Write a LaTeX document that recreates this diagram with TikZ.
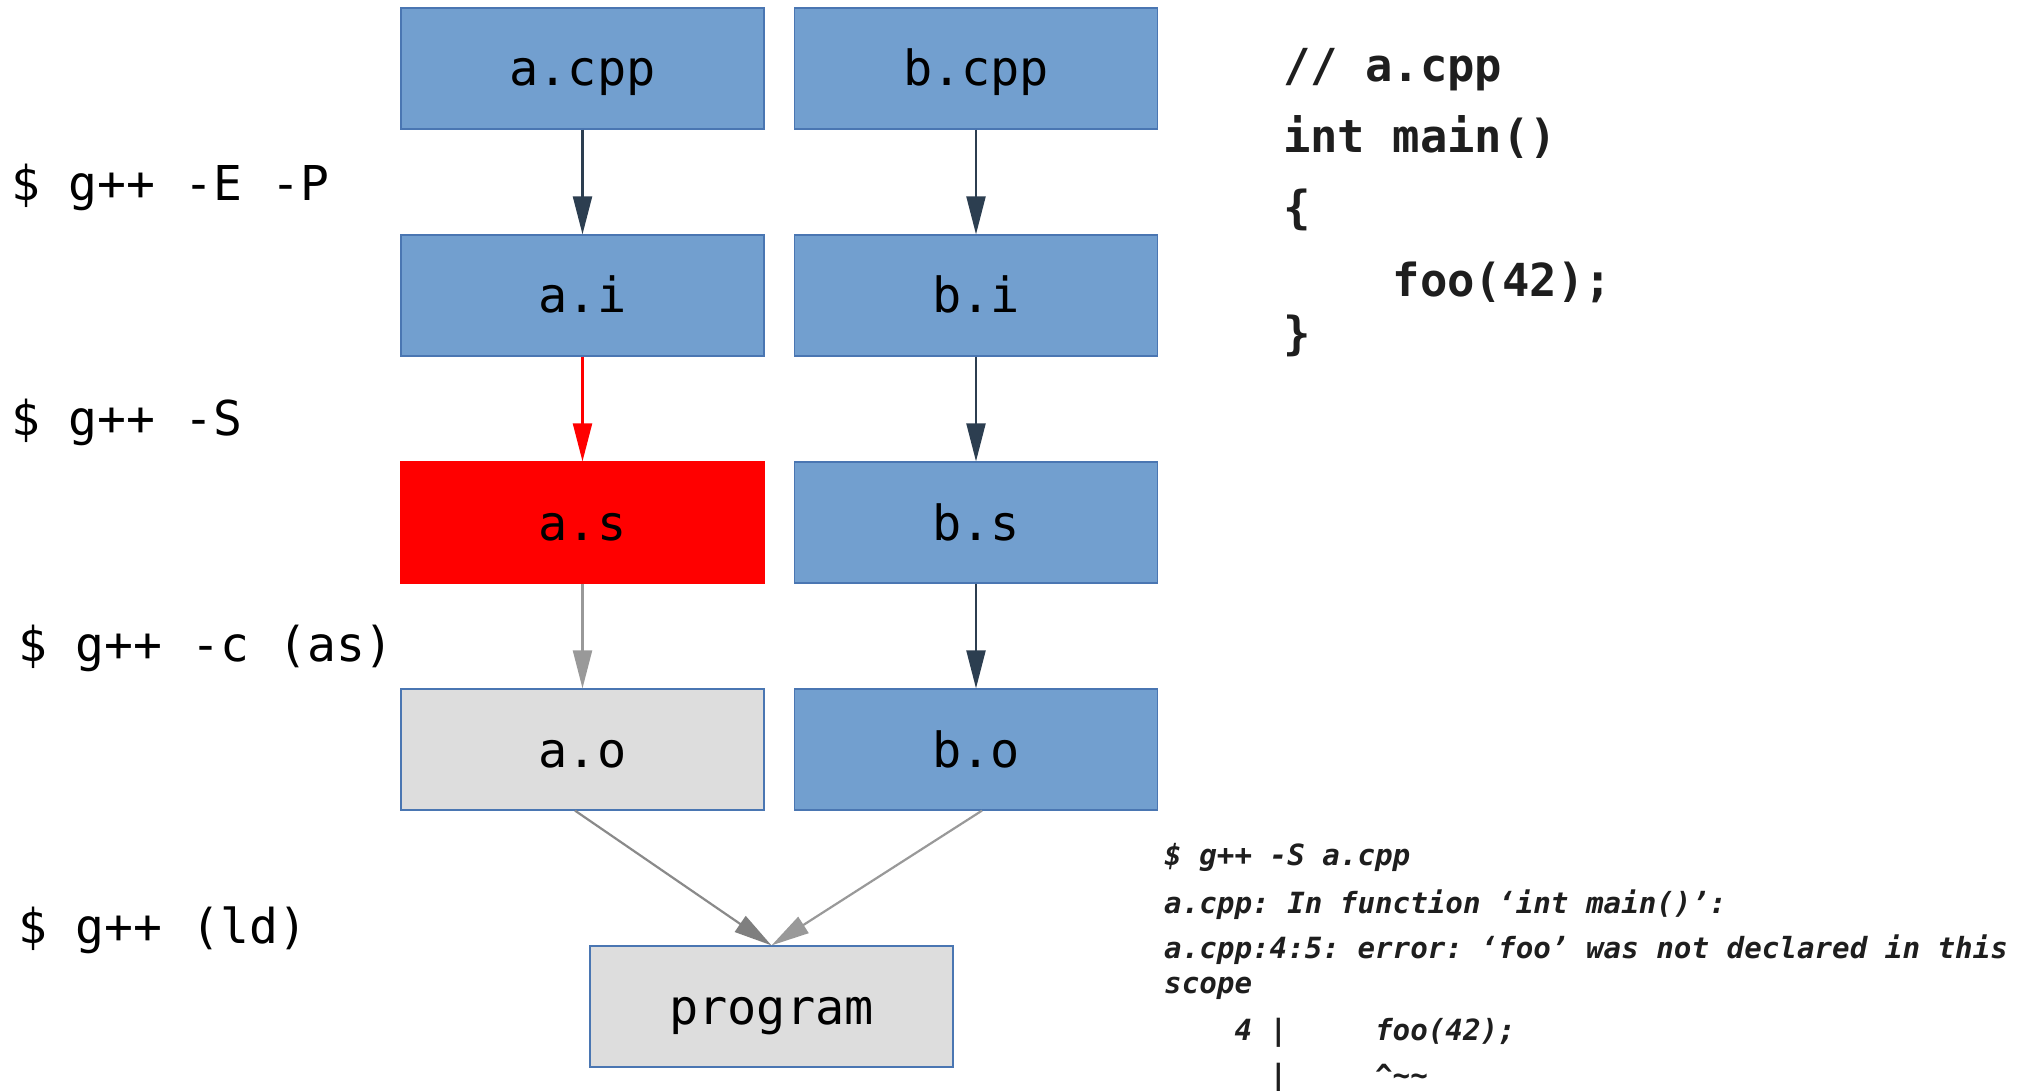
\documentclass[tikz,border=0pt]{standalone}
\usepackage{fontspec}
\usetikzlibrary{arrows.meta}
\newfontfamily\monofam{DejaVu Sans Mono}[
  BoldFont={DejaVu Sans Mono Bold},
  ItalicFont={DejaVu Sans Mono Oblique},
  BoldItalicFont={DejaVu Sans Mono Bold Oblique}]
\newcommand\setpx[1]{\fontsize{#1}{#1}\selectfont}
\frenchspacing
\definecolor{fillblue}{HTML}{729FCF}
\definecolor{edgeblue}{HTML}{4A76B2}
\definecolor{fillgray}{HTML}{DDDDDD}
\definecolor{slate}{HTML}{2C3E50}
\definecolor{lightgray}{HTML}{999999}
\definecolor{linegray}{HTML}{8A8A8A}
\definecolor{headgray}{HTML}{7F7F7F}
\definecolor{codegray}{HTML}{1E1E1E}
\begin{document}
\begin{tikzpicture}[x=1pt,y=-1pt,
  box/.style={rectangle, minimum width=363pt, minimum height=121pt,
    inner sep=0pt, line width=1.2pt, font=\monofam\setpx{48.5},
    text height=35pt, text depth=0pt},
  bluebox/.style={box, fill=fillblue, draw=edgeblue},
  redbox/.style={box, fill=red, draw=red},
  graybox/.style={box, fill=fillgray, draw=edgeblue},
  flow/.style={line width=2.2pt, -{Triangle[length=38pt,width=19pt]}},
  cmdlabel/.style={anchor=base west, inner sep=0pt, font=\monofam\setpx{48}},
  codeline/.style={anchor=base west, inner sep=0pt,
    font=\monofam\bfseries\setpx{45.5}, text=codegray},
  errline/.style={anchor=base west, inner sep=0pt,
    font=\monofam\bfseries\itshape\setpx{29.2}, text=codegray}]
\useasboundingbox (0,0) rectangle (2030,1091);

% build products, one column per source file
\node[bluebox] (acpp) at (582.5,68.5) {a.cpp};
\node[bluebox] (bcpp) at (976,68.5) {b.cpp};
\node[bluebox] (ai) at (582.5,295.5) {a.i};
\node[bluebox] (bi) at (976,295.5) {b.i};
\node[redbox] (as) at (582.5,522.5) {a.s};
\node[bluebox] (bs) at (976,522.5) {b.s};
\node[graybox] (ao) at (582.5,749.5) {a.o};
\node[bluebox] (bo) at (976,749.5) {b.o};
\node[graybox] (prog) at (771.5,1006.5) {program};

% build steps
\draw[flow, slate] (acpp) -- (ai);
\draw[flow, slate] (bcpp) -- (bi);
\draw[flow, red] (ai) -- (as);
\draw[flow, slate] (bi) -- (bs);
\draw[flow, lightgray] (as) -- (ao);
\draw[flow, slate] (bs) -- (bo);
\draw[line width=2.2pt, draw=linegray, -{Triangle[length=38pt,width=19pt,color=headgray]}]
  ([xshift=-7.5pt]ao.south) -- (prog.north);
\draw[flow, lightgray] ([xshift=6pt]bo.south) -- (prog.north);

% compiler invocations
\node[cmdlabel] (c1) at (11,200.6) {\$ g++ -E -P};
\node[cmdlabel] (c2) at (11,435) {\$ g++ -S};
\node[cmdlabel] (c3) at (18,661) {\$ g++ -c (as)};
\node[cmdlabel] (c4) at (18,943) {\$ g++ (ld)};

% source of a.cpp
\node[codeline] (s1) at (1283,82) {// a.cpp};
\node[codeline] (s2) at (1283,153) {int main()};
\node[codeline] (s3) at (1283,224) {\{};
\node[codeline] (s4) at (1283,297) {\ \ \ \ foo(42);};
\node[codeline] (s5) at (1283,349) {\}};

% compiler output
\node[errline] (e1) at (1164,865) {\$ g++ -S a.cpp};
\node[errline] (e2) at (1164,913) {a.cpp: In function ‘int main()’:};
\node[errline] (e3) at (1164,958) {a.cpp:4:5: error: ‘foo’ was not declared in this};
\node[errline] (e4) at (1164,993) {scope};
\node[errline] (e5) at (1164,1040) {\ \ \ \ 4 |\ \ \ \ \ foo(42);};
\node[errline] (e6) at (1164,1085) {\ \ \ \ \ \ |\ \ \ \ \ \textasciicircum\textasciitilde\textasciitilde};
\end{tikzpicture}
\end{document}
